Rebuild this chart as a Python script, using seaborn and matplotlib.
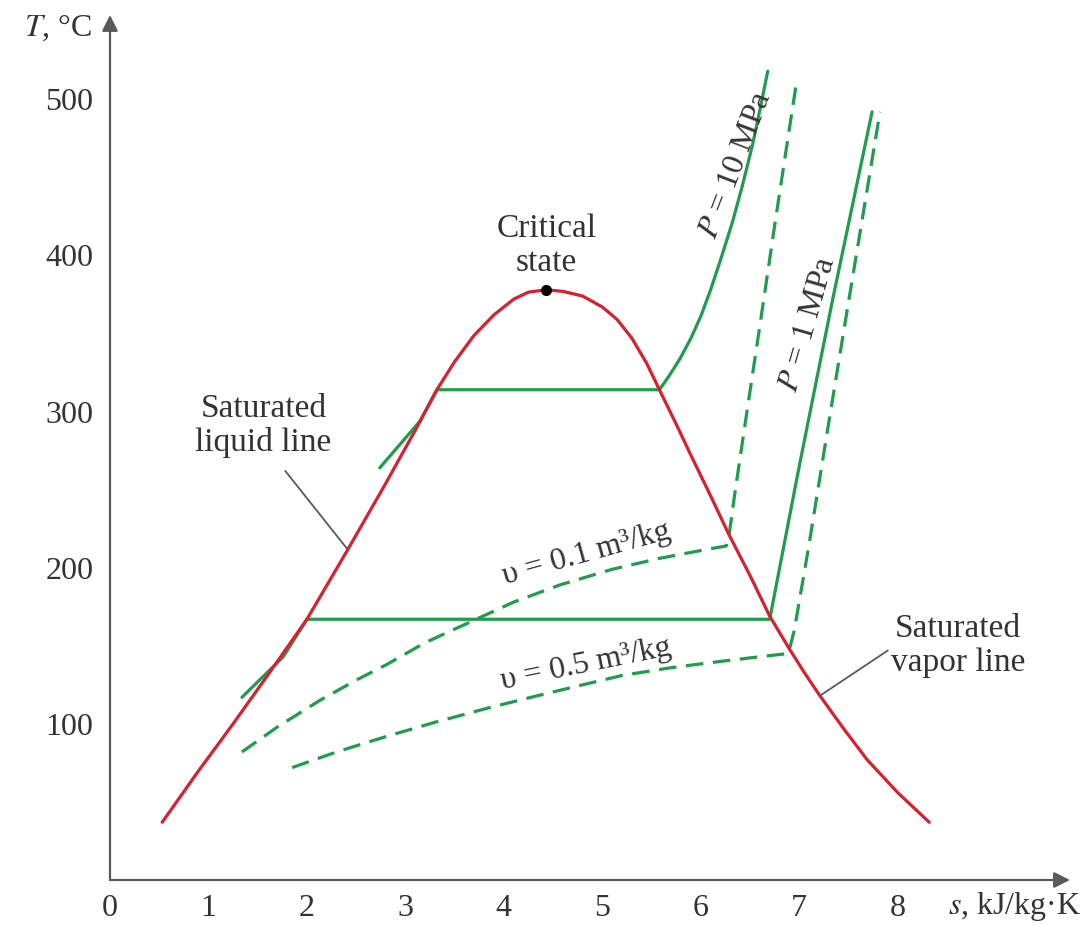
import numpy as np
import pandas as pd
import matplotlib
matplotlib.use("Agg")
import matplotlib.pyplot as plt
import seaborn as sns

# --- data (s in kJ/kg.K, T in degC) ---
liq_s = [0.53, 0.90, 1.25, 1.60, 2.00, 2.40, 2.80, 3.10, 3.32, 3.50, 3.70, 3.90, 4.10, 4.25, 4.43]
liq_T = [37, 70, 100, 131, 167, 210, 254, 288, 314, 332, 349, 362, 372, 376.5, 378]
vap_s = [4.43, 4.60, 4.80, 5.00, 5.15, 5.30, 5.45, 5.58, 5.75, 5.90, 6.10, 6.28, 6.50, 6.70,
         6.90, 7.05, 7.21, 7.45, 7.69, 8.00, 8.32]
vap_T = [378, 377, 374, 367, 359, 347, 331, 314, 292, 272, 246, 222, 195, 169,
         148, 133, 118, 97, 77, 56, 37]

p10_s = [2.74, 3.15, 3.32, 5.58, 5.68, 5.79, 5.90, 6.00, 6.10, 6.20, 6.32, 6.42, 6.53, 6.60, 6.68]
p10_T = [264, 294, 314, 314, 323, 334, 347, 361, 378, 397, 421, 444, 472, 493, 518]
p1_s = [1.34, 1.76, 2.00, 6.70, 7.00, 7.34, 7.74]
p1_T = [117, 143, 167, 167, 265, 372, 492]

v01_s = [1.34, 1.70, 2.13, 2.50, 2.81, 3.20, 3.65, 4.10, 4.57, 5.10, 5.58, 6.00, 6.26,
         6.29, 6.34, 6.45, 6.60, 6.75, 6.88, 6.97]
v01_T = [82, 98, 115, 128, 138, 152, 165, 178, 189, 199, 206, 211, 214,
         222, 245, 292, 355, 419, 473, 510]
v05_s = [1.85, 2.30, 2.81, 3.30, 3.83, 4.34, 4.80, 5.20, 5.70, 6.20, 6.60, 6.88,
         6.91, 6.95, 7.10, 7.30, 7.50, 7.70, 7.82]
v05_T = [72, 82, 92, 101, 110, 118, 125, 131, 136, 140, 143, 145,
         150, 160, 215, 293, 370, 446, 492]

crit_s, crit_T = 4.43, 378
x_ticks = list(range(0, 9))
y_ticks = [100, 200, 300, 400, 500]

RED = "#d8202f"
GREEN = "#1f9d4c"
INK = "#333333"
AXC = "#5a5a5a"
FS = 23

sns.set_theme(style="white")
plt.rcParams["font.family"] = ["Liberation Serif", "DejaVu Serif"]
plt.rcParams["mathtext.fontset"] = "stix"

fig = plt.figure(figsize=(10.86, 9.25), dpi=100)
ax = fig.add_axes([110 / 1086, 45 / 925, 960 / 1086, 865 / 925])
ax.set_xlim(0, 9.75)
ax.set_ylim(0, 554)

# saturation dome
dome = pd.DataFrame({"s": liq_s + vap_s[1:], "T": liq_T + vap_T[1:]})
sns.lineplot(data=dome, x="s", y="T", sort=False, estimator=None, color=RED, lw=2.3,
             ax=ax, zorder=3)

# isobars (solid) and isochores (dashed)
for xs, ys in [(p10_s, p10_T), (p1_s, p1_T)]:
    sns.lineplot(x=xs, y=ys, sort=False, estimator=None, color=GREEN, lw=2.3, ax=ax, zorder=2)
for xs, ys in [(v01_s, v01_T), (v05_s, v05_T)]:
    sns.lineplot(x=xs, y=ys, sort=False, estimator=None, color=GREEN, lw=2.3,
                 linestyle=(0, (5.5, 3.0)), ax=ax, zorder=2)

ax.plot([crit_s], [crit_T], "o", color="black", ms=7, zorder=4)

# axes drawn as arrows
for sp in ax.spines.values():
    sp.set_visible(False)
arrow = dict(arrowstyle="-|>", color=AXC, lw=1.6, mutation_scale=24, shrinkA=0, shrinkB=0)
ax.annotate("", xy=(1, 0), xytext=(0, 0), xycoords="axes fraction", arrowprops=arrow)
ax.annotate("", xy=(0, 1), xytext=(0, 0), xycoords="axes fraction", arrowprops=arrow)

ax.set_xticks(x_ticks)
ax.set_yticks(y_ticks)
ax.tick_params(direction="in", length=13, width=1.4, color=AXC, labelcolor=INK, labelsize=FS)
ax.tick_params(axis="x", pad=10)
ax.tick_params(axis="y", pad=12)
ax.set_xlabel("")
ax.set_ylabel("")

ax.text(-0.18, 546, "$T$, °C", ha="right", va="center", fontsize=FS, color=INK, clip_on=False)
ax.text(9.86, -17, "$s$, kJ/kg·K", ha="right", va="center", fontsize=FS, color=INK, clip_on=False)

# annotations
lab = dict(ha="center", va="center", fontsize=FS + 1, color=INK, linespacing=1.15)
ax.text(4.43, 406, "Critical\nstate", **lab)
ax.text(1.56, 291, "Saturated\nliquid line", **lab)
ax.text(8.61, 150, "Saturated\nvapor line", **lab)
lead = dict(arrowstyle="-", color=AXC, lw=1.3, shrinkA=0, shrinkB=0)
ax.annotate("", xy=(2.41, 212), xytext=(1.78, 262), arrowprops=lead)
ax.annotate("", xy=(7.21, 118), xytext=(7.90, 147), arrowprops=lead)

ax.text(6.36, 458, "$P$ = 10 MPa", ha="center", va="center", fontsize=FS, color=INK, rotation=69)
ax.text(7.09, 356, "$P$ = 1 MPa", ha="center", va="center", fontsize=FS, color=INK, rotation=74)
ax.text(4.84, 209, "υ = 0.1 m³/kg", ha="center", va="center", fontsize=FS, color=INK, rotation=15.5)
ax.text(4.83, 138, "υ = 0.5 m³/kg", ha="center", va="center", fontsize=FS, color=INK, rotation=11.5)

fig.savefig("out.png", dpi=100)
